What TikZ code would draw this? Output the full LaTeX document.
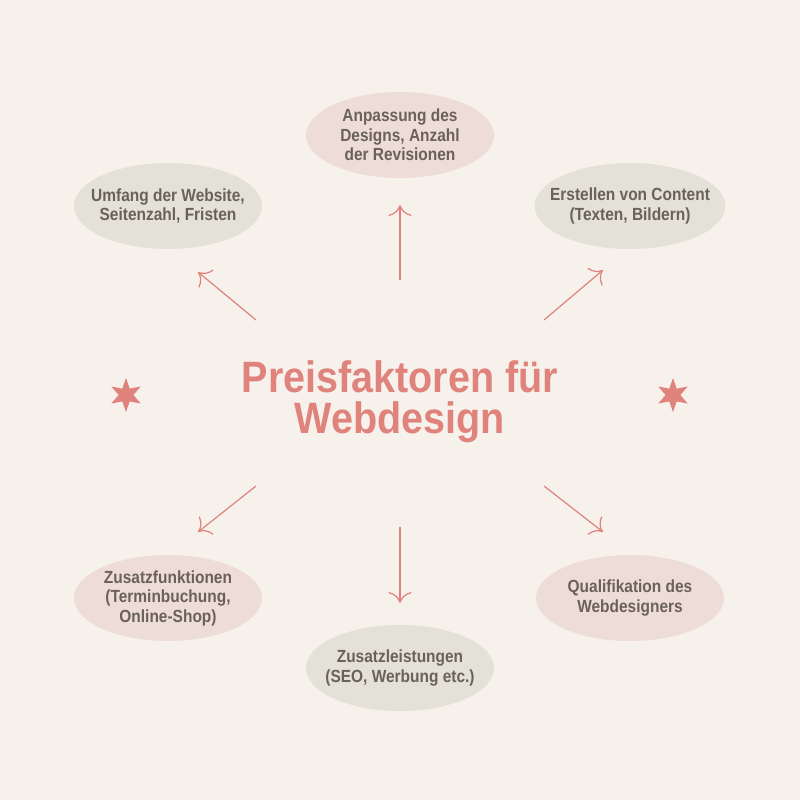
\documentclass[tikz,border=0pt]{standalone}
\usepackage{fontspec}
\setmainfont{Liberation Sans}[FakeStretch=0.88]
\newfontfamily\titlefont{Liberation Sans}[FakeStretch=0.9]
\usepackage{tikz}
\usetikzlibrary{shapes.geometric,arrows.meta}
\definecolor{bgcol}{HTML}{F7F1EC}
\definecolor{salmon}{HTML}{E0837D}
\definecolor{greyink}{HTML}{6A615B}
\definecolor{sage}{HTML}{E4E1D6}
\definecolor{blush}{HTML}{EEDDD6}

\begin{document}
\begin{tikzpicture}[x=0.2mm,y=-0.2mm,
    factor/.style={ellipse,inner xsep=-2.5mm,inner ysep=0pt,minimum width=188*0.2mm,minimum height=86*0.2mm,
      align=center,text=greyink,font=\bfseries\fontsize{10}{11.1}\selectfont},
    sagebox/.style={factor,fill=sage},
    blushbox/.style={factor,fill=blush},
    pointer/.style={draw=salmon,line width=0.7pt,-{To[length=2.2mm,width=4.6mm]}},
    deco/.style={star,star points=6,star point ratio=2.3,minimum size=34*0.2mm,inner sep=0pt,fill=salmon}]
    \fill[bgcol] (0,0) rectangle (800,800);

    \node(Title) at (400,402) [align=center,text=salmon,font=\titlefont\bfseries\fontsize{25}{23.4}\selectfont] {Preisfaktoren für\\Webdesign};

    \node[blushbox](Design) at (400,135) {Anpassung des\\Designs, Anzahl\\der Revisionen};
    \node[sagebox](Umfang) at (168,206) {Umfang der Website,\\Seitenzahl, Fristen};
    \node[sagebox](Content) at (630,206) {Erstellen von Content\\(Texten, Bildern)};
    \node[blushbox](Funktion) at (168,598) {Zusatzfunktionen\\(Terminbuchung,\\Online-Shop)};
    \node[sagebox](Leistung) at (400,668) {Zusatzleistungen\\(SEO, Werbung etc.)};
    \node[blushbox](Quali) at (630,598) {Qualifikation des\\Webdesigners};

    \node[deco](StarL) at (126,395) {};
    \node[deco](StarR) at (673,395) {};

    \coordinate(A1) at (400,280); \coordinate(B1) at (400,205);
    \coordinate(A2) at (256,320); \coordinate(B2) at (198,272);
    \coordinate(A3) at (544,320); \coordinate(B3) at (603,270);
    \coordinate(A4) at (256,486); \coordinate(B4) at (198,532);
    \coordinate(A5) at (400,527); \coordinate(B5) at (400,603);
    \coordinate(A6) at (544,486); \coordinate(B6) at (603,532);

    \draw[pointer] (A1) -- (B1);
    \draw[pointer] (A2) -- (B2);
    \draw[pointer] (A3) -- (B3);
    \draw[pointer] (A4) -- (B4);
    \draw[pointer] (A5) -- (B5);
    \draw[pointer] (A6) -- (B6);
  \end{tikzpicture}
\end{document}
